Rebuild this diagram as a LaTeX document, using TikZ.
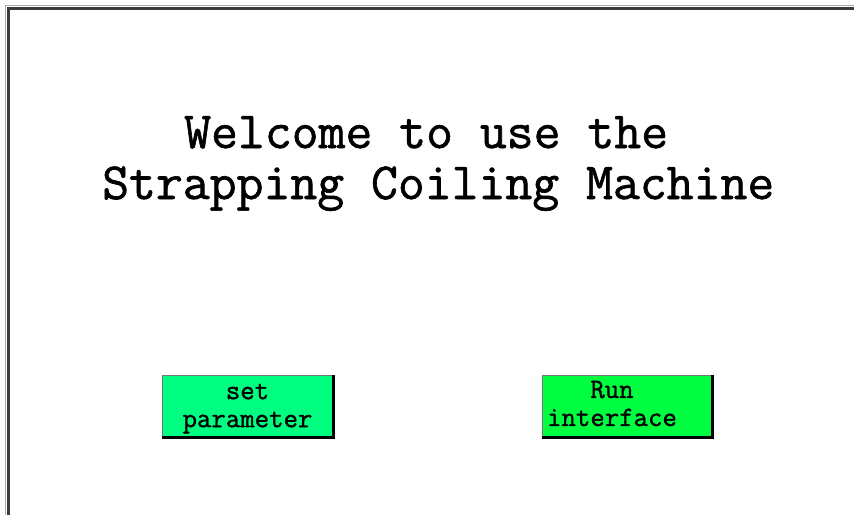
\documentclass[tikz,border=0pt]{standalone}
\usepackage{fontspec}
\setmonofont{Latin Modern Mono}[FakeBold=1.2]
\usepackage{xcolor}
\definecolor{BtnSet}{RGB}{0,255,128}
\definecolor{BtnRun}{RGB}{0,255,64}
\definecolor{FrameDark}{RGB}{60,60,60}
\definecolor{FrameLight}{RGB}{170,170,170}

\begin{document}
\begin{tikzpicture}[x=1pt,y=-1pt,
    title/.style={font=\ttfamily\fontsize{52.2}{53}\selectfont,anchor=base west,inner sep=0pt},
    btn/.style={draw=FrameDark!70,line width=1pt,minimum width=170pt,minimum height=62pt,inner sep=0pt},
    btntext/.style={font=\ttfamily\fontsize{28}{28}\selectfont,align=center,inner sep=0pt},
    shadow/.style={line width=3pt}]

  % Page size.
  \useasboundingbox (0,0) rectangle (854,515);

  % Screen frame (top and left edge only).
  \draw[FrameLight,line width=1.5pt] (5.5,515) -- (5.5,5.5) -- (854,5.5);
  \draw[FrameDark,line width=2.5pt] (8.5,515) -- (8.5,8.5) -- (854,8.5);

  % Welcome text.
  \node[title] (welcome) at (184,148) {Welcome to use the};
  \node[title] (machine) at (102,199) {Strapping Coiling Machine};

  % Buttons.
  \node[btn,fill=BtnSet] (set) at (247.5,406) {};
  \draw[shadow] (set.north east) -- (set.south east) -- (set.south west); % shadow
  \node[btntext] (settext) at (247.5,408.5) {set\\parameter};

  \node[btn,fill=BtnRun] (run) at (627,406) {};
  \draw[shadow] (run.north east) -- (run.south east) -- (run.south west); % shadow
  \node[btntext] (runtext) at (612,403.5) {Run\\interface};

\end{tikzpicture}
\end{document}
